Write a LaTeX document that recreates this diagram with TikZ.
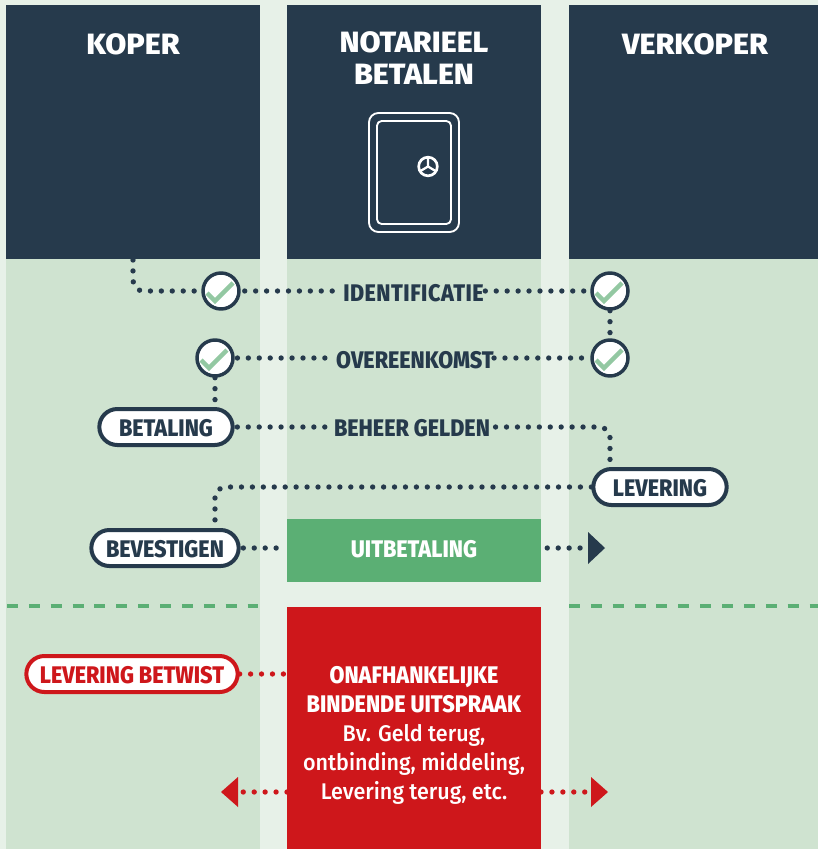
\documentclass[tikz,border=0pt]{standalone}
\usepackage{fontspec}
\setmainfont{Fira Sans Medium}[FakeStretch=0.95,BoldFont={Fira Sans ExtraBold},BoldFeatures={FakeStretch=0.90}]
\newfontfamily\headfont{Fira Sans ExtraBold}[FakeStretch=1.04]
\usetikzlibrary{calc}
\definecolor{navy}{HTML}{263A4C}
\definecolor{pale}{HTML}{E7F1E8}
\definecolor{lane}{HTML}{CFE3D0}
\definecolor{grn}{HTML}{5BAF74}
\definecolor{chk}{HTML}{93C8A2}
\definecolor{rood}{HTML}{CE171B}
\newcommand{\pilltext}[1]{\raisebox{-6.9pt}[0pt][0pt]{#1}}
\tikzset{
 x=0.75pt,y=-0.75pt,
 head/.style={text=white,font=\fontsize{22}{23}\headfont,align=center,inner sep=0pt},
 lbl/.style={text=navy,font=\fontsize{18}{20}\selectfont\bfseries,inner sep=0pt},
 pill/.style={draw=navy,line width=3pt,fill=white,rounded corners=13.5pt,minimum height=27pt,inner sep=0pt,text=navy,font=\fontsize{18}{20}\selectfont\bfseries},
 redpill/.style={pill,draw=rood,text=rood},
 tick/.style={circle,draw=navy,line width=2.6pt,fill=white,minimum size=27pt,inner sep=0pt},
 dots/.style={draw=navy,line width=4pt,line cap=round,dash pattern=on 0pt off 8.2pt},
 reddots/.style={dots,draw=rood},
 tickmark/.style={draw=chk,line width=3.4pt},
 bar/.style={draw=grn,line width=2.4pt,dash pattern=on 8.2pt off 8.2pt},
 safe/.style={draw=white,line width=1.4pt}
}
\newcommand{\checkat}[1]{\draw[tickmark] ($(#1)+(-14,2)$) -- ($(#1)+(-6,10)$) -- ($(#1)+(12,-8)$);}
\begin{document}
\begin{tikzpicture}
\useasboundingbox (0,0) rectangle (818,849);
\fill[pale] (0,0) rectangle (818,849);
\fill[lane] (6,259) rectangle (260,849);
\fill[lane] (287,259) rectangle (541,582);
\fill[lane] (569,259) rectangle (818,849);
\fill[navy] (6,5) rectangle (260,259);
\fill[navy] (287,5) rectangle (541,259);
\fill[navy] (569,5) rectangle (818,259);
\draw[bar] (7,606) -- (260,606);
\draw[bar] (569,606) -- (818,606);

\node[head] (koper) at (133,44) {KOPER};
\node[head] (notaris) at (414,58) {NOTARIEEL\\[1pt]BETALEN};
\node[head] (verkoper) at (695,44) {VERKOPER};

\draw[safe,rounded corners=7pt] (369,113) rectangle (459,232);
\draw[safe,rounded corners=3.5pt] (377,121) rectangle (451,224);
\draw[safe,line width=2pt] (428,166.5) circle (7pt);
\draw[safe,line width=1.7pt] (428,166.5) -- (428,158) (428,166.5) -- (420.5,171) (428,166.5) -- (435.5,171);

\node[tick] (t1) at (221,291) {};
\node[tick] (t2) at (610,291) {};
\node[tick] (t3) at (215,358) {};
\node[tick] (t4) at (610,358) {};
\checkat{t1}\checkat{t2}\checkat{t3}\checkat{t4}
\node[lbl] (ident) at (413.5,293) {\addfontfeature{LetterSpace=2}IDENTIFICATIE};
\node[lbl] (over) at (415,360) {OVEREENKOMST};
\node[lbl] (beheer) at (412,428) {BEHEER GELDEN};
\node[pill,minimum width=100pt] (bet) at (166,427) {\pilltext{BETALING}};
\node[pill,minimum width=100pt] (lev) at (660,487) {\pilltext{LEVERING}};
\node[pill,minimum width=110.5pt] (bev) at (165,548) {\pilltext{BEVESTIGEN}};
\node[redpill,minimum width=158.5pt] (betw) at (132,674) {\pilltext{LEVERING BETWIST}};

\node[fill=grn,minimum width=190.5pt,minimum height=47.25pt,inner sep=0pt] (uit) at (414,550.5) {};
\node[text=white,inner sep=0pt,font=\fontsize{18}{20}\selectfont\bfseries] (uittxt) at (414,549) {UITBETALING};
\node[fill=rood,minimum width=190.5pt,minimum height=181.5pt,inner sep=0pt] (red) at (414,728) {};
\node[text=white,align=center,inner sep=0pt,font=\fontsize{17}{21.9}\selectfont] (redtxt) at (414,735.5) {\textbf{\fontsize{18}{21.9}\selectfont ONAFHANKELIJKE}\\\textbf{\fontsize{18}{21.9}\selectfont BINDENDE UITSPRAAK}\\Bv. Geld terug,\\ontbinding, middeling,\\Levering terug, etc.};

\coordinate (kstart) at (133,260);
\coordinate (a1) at (582,548);
\coordinate (redL) at (287,792);
\coordinate (redR) at (541,792);

\draw[dots,rounded corners=8pt] (kstart) -- (133,291) -- (t1.west);
\draw[dots,shorten <=3pt,shorten >=3pt] (t1.east) -- (ident.west |- t1);
\draw[dots,shorten <=1pt] (ident.east |- t2) -- (t2.west);
\draw[dots] (t2.south) -- (t4.north);
\draw[dots,shorten <=2pt,shorten >=1pt] (t3.east) -- (over.west |- t3);
\draw[dots] (over.east |- t4) -- (t4.west);
\draw[dots] (t3.south) -- (t3.south |- bet.north);
\draw[dots,shorten <=2pt,shorten >=2pt] (bet.east) -- (beheer.west |- bet);
\draw[dots,rounded corners=8pt,shorten <=4pt] (beheer.east |- bet) -- (610,427) -- (610,468);
\draw[dots,rounded corners=8pt] (lev.west) -- (215,487) -- (215,528);
\draw[dots,shorten <=2pt] (bev.east) -- (uit.west |- bev);
\draw[dots,shorten <=4.5pt] (uit.east |- a1) -- (a1);
\fill[navy] (588,532) -- (605,548) -- (588,564) -- cycle;
\draw[reddots] (betw.east) -- (red.west |- betw.east);
\draw[reddots] (redL) -- (238,792);
\draw[reddots] (redR) -- (590,792);
\fill[rood] (238,777) -- (221,792) -- (238,807) -- cycle;
\fill[rood] (591,777) -- (608,792) -- (591,807) -- cycle;
\end{tikzpicture}
\end{document}
